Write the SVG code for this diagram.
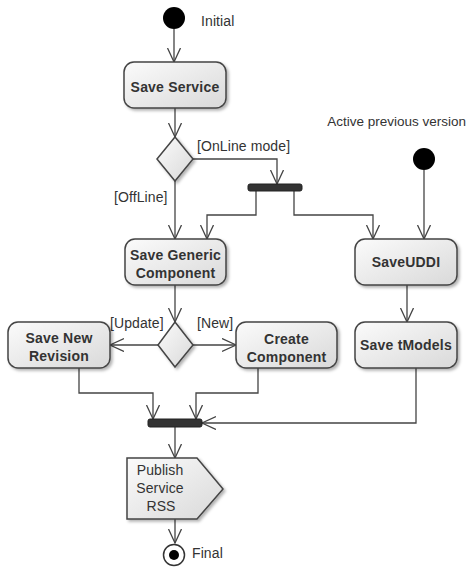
<svg xmlns="http://www.w3.org/2000/svg" width="468" height="567" viewBox="0 0 468 567">
<style>
text{font-family:"Liberation Sans",Arial,sans-serif;fill:#333}
.b{font-size:14px;font-weight:bold;text-anchor:middle;letter-spacing:0.2px}
.r{font-size:14px;letter-spacing:0.1px}
.box{fill:url(#g);stroke:#444;stroke-width:1.5;filter:url(#sh)}
.bar{fill:#333;stroke:#222;stroke-width:1}
.c{fill:none;stroke:#444;stroke-width:1.3;marker-end:url(#arr)}
</style>
<defs>
<linearGradient id="g" x1="0" y1="0" x2="1" y2="1">
<stop offset="0" stop-color="#fbfbfb"/>
<stop offset="1" stop-color="#d9d9d9"/>
</linearGradient>
<filter id="sh" x="-10%" y="-10%" width="130%" height="140%">
<feDropShadow dx="2" dy="2" stdDeviation="1.5" flood-color="#000" flood-opacity="0.3"/>
</filter>
<marker id="arr" markerWidth="16" markerHeight="16" refX="14" refY="7" orient="auto" markerUnits="userSpaceOnUse">
<path d="M0,0.5 L14,7 L0,13.5" fill="none" stroke="#444" stroke-width="1.3"/>
</marker>
</defs>

<g id="connectors">
<path class="c" d="M174,29 V62"/>
<path class="c" d="M175,108 V137"/>
<path class="c" d="M193,159 H277 V184"/>
<path class="c" d="M175,181 V239"/>
<path class="c" d="M256,191 V215 H207 V239"/>
<path class="c" d="M294,191 V215 H373 V239"/>
<path class="c" d="M424,170 V239"/>
<path class="c" d="M175,285 V322"/>
<path class="c" d="M158,345 H110"/>
<path class="c" d="M193,345 H236"/>
<path class="c" d="M407,285 V322"/>
<path class="c" d="M79,368 V393 H153 V419"/>
<path class="c" d="M258,368 V393 H196 V419"/>
<path class="c" d="M416,368 V423 H202"/>
<path class="c" d="M175,427 V458"/>
<path class="c" d="M175,519 V543"/>
<text class="r" x="197" y="151">[OnLine mode]</text>
<text class="r" x="114" y="202">[OffLine]</text>
<text class="r" x="110" y="328">[Update]</text>
<text class="r" x="197" y="328">[New]</text>
</g>

<g id="initial">
<circle cx="174" cy="18" r="11" fill="#000"/>
<text class="r" x="201" y="26">Initial</text>
</g>

<g id="saveService">
<rect class="box" x="124" y="62" width="102" height="46" rx="10"/>
<text class="b" x="175" y="91.5">Save Service</text>
</g>

<g id="decision1">
<polygon class="box" points="175,137 193,159 175,181 157,159"/>
</g>

<g id="fork1">
<rect class="bar" x="248" y="184" width="54" height="7" rx="2"/>
</g>

<g id="initial2">
<text x="466" y="126" style="font-size:13.5px" text-anchor="end">Active previous version</text>
<circle cx="424" cy="159" r="11" fill="#000"/>
</g>

<g id="saveGeneric">
<rect class="box" x="125" y="239" width="101" height="46" rx="10"/>
<text class="b" x="175.5" y="260">Save Generic</text>
<text class="b" x="175.5" y="278">Component</text>
</g>

<g id="saveUDDI">
<rect class="box" x="355" y="239" width="102" height="46" rx="10"/>
<text class="b" x="406" y="267">SaveUDDI</text>
</g>

<g id="decision2">
<polygon class="box" points="175,322 193,345 175,367 158,345"/>
</g>

<g id="saveNewRevision">
<rect class="box" x="8" y="322" width="102" height="46" rx="10"/>
<text class="b" x="59" y="343">Save New</text>
<text class="b" x="59" y="361">Revision</text>
</g>

<g id="createComponent">
<rect class="box" x="236" y="322" width="101" height="46" rx="10"/>
<text class="b" x="286.5" y="344">Create</text>
<text class="b" x="286.5" y="361.5">Component</text>
</g>

<g id="saveTModels">
<rect class="box" x="355" y="322" width="102" height="46" rx="10"/>
<text class="b" x="406" y="350">Save tModels</text>
</g>

<g id="join">
<rect class="bar" x="148" y="419" width="54" height="8" rx="2"/>
</g>

<g id="publish">
<polygon class="box" points="127,458 197,458 223,489 197,519 127,519"/>
<text class="r" x="160" y="475" text-anchor="middle">Publish</text>
<text class="r" x="160" y="493" text-anchor="middle">Service</text>
<text class="r" x="161" y="511" text-anchor="middle">RSS</text>
</g>

<g id="final">
<circle cx="174" cy="555" r="10.5" fill="#fff" stroke="#333" stroke-width="1.5"/>
<circle cx="174" cy="555" r="5" fill="#000"/>
<text class="r" x="192" y="558">Final</text>
</g>
</svg>
